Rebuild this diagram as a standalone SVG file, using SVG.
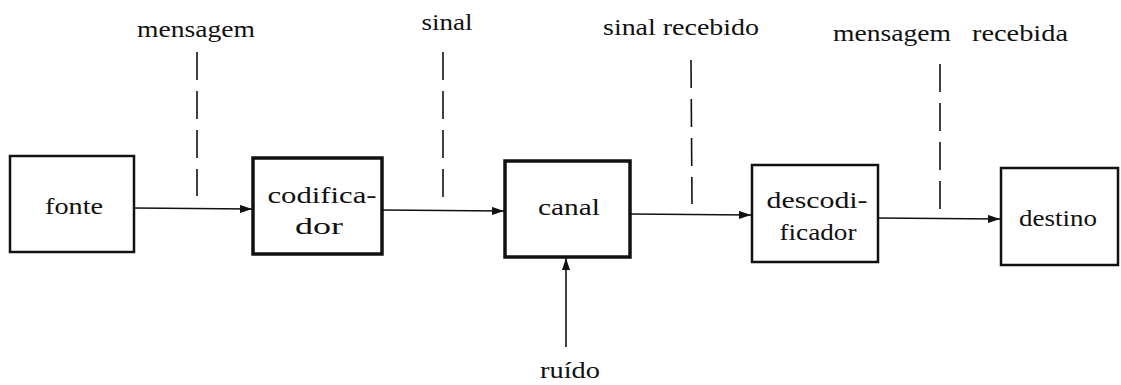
<svg xmlns="http://www.w3.org/2000/svg" width="1121" height="385" viewBox="0 0 1121 385">
<style>
.box{fill:#fff;stroke:#111;stroke-width:2.5}
.thick{stroke-width:3.5}
.lbl{font-family:"Liberation Serif","DejaVu Serif",serif;fill:#111;text-anchor:middle}
.big{font-size:24px}
.top{font-size:24px}
.conn{stroke:#111;stroke-width:1.6;fill:none}
.dash{stroke:#111;stroke-width:1.6;stroke-dasharray:28 11;fill:none}
</style>
<defs>
<marker id="ah" viewBox="0 0 12 8" refX="12" refY="4" markerWidth="12" markerHeight="8" markerUnits="userSpaceOnUse" orient="auto">
<path d="M0,0 L12,4 L0,8 z" fill="#111"/>
</marker>
</defs>
<rect width="1121" height="385" fill="#fff"/>
<g id="connectors">
<line class="conn" x1="134" y1="208" x2="252" y2="209" marker-end="url(#ah)"/>
<line class="conn" x1="382" y1="210" x2="504" y2="211" marker-end="url(#ah)"/>
<line class="conn" x1="630" y1="214" x2="751" y2="215" marker-end="url(#ah)"/>
<line class="conn" x1="878" y1="218" x2="1000" y2="219" marker-end="url(#ah)"/>
<line class="conn" x1="566" y1="347" x2="566" y2="258" marker-end="url(#ah)"/>
<line class="dash" x1="197" y1="52" x2="197" y2="196"/>
<line class="dash" x1="443" y1="52" x2="443" y2="199"/>
<line class="dash" x1="691" y1="60" x2="692" y2="204"/>
<line class="dash" x1="940" y1="64" x2="940" y2="210"/>
</g>
<g id="labels">
<text class="lbl top" x="196" y="37" textLength="118" lengthAdjust="spacingAndGlyphs">mensagem</text>
<text class="lbl top" x="447" y="30" textLength="51" lengthAdjust="spacingAndGlyphs">sinal</text>
<text class="lbl top" x="681" y="35" textLength="156" lengthAdjust="spacingAndGlyphs">sinal recebido</text>
<text class="lbl top" x="892" y="41" textLength="118" lengthAdjust="spacingAndGlyphs">mensagem</text>
<text class="lbl top" x="1020" y="41" textLength="96" lengthAdjust="spacingAndGlyphs">recebida</text>
<text class="lbl big" x="570" y="378" textLength="60" lengthAdjust="spacingAndGlyphs">ruído</text>
</g>
<g id="fonte">
<rect class="box" x="10" y="156" width="124" height="96"/>
<text class="lbl big" x="74" y="214" textLength="58" lengthAdjust="spacingAndGlyphs">fonte</text>
</g>
<g id="codificador">
<rect class="box thick" x="253" y="158" width="129" height="96"/>
<text class="lbl big" x="322" y="203" textLength="109" lengthAdjust="spacingAndGlyphs">codifica-</text>
<text class="lbl big" x="319" y="234" textLength="48" lengthAdjust="spacingAndGlyphs">dor</text>
</g>
<g id="canal">
<rect class="box thick" x="505" y="161" width="125" height="96"/>
<text class="lbl big" x="569" y="215" textLength="62" lengthAdjust="spacingAndGlyphs">canal</text>
</g>
<g id="descodificador">
<rect class="box" x="752" y="165" width="126" height="97"/>
<text class="lbl big" x="817" y="208" textLength="101" lengthAdjust="spacingAndGlyphs">descodi-</text>
<text class="lbl big" x="818" y="240" textLength="77" lengthAdjust="spacingAndGlyphs">ficador</text>
</g>
<g id="destino">
<rect class="box" x="1001" y="168" width="117" height="97"/>
<text class="lbl big" x="1058" y="226" textLength="78" lengthAdjust="spacingAndGlyphs">destino</text>
</g>
</svg>
